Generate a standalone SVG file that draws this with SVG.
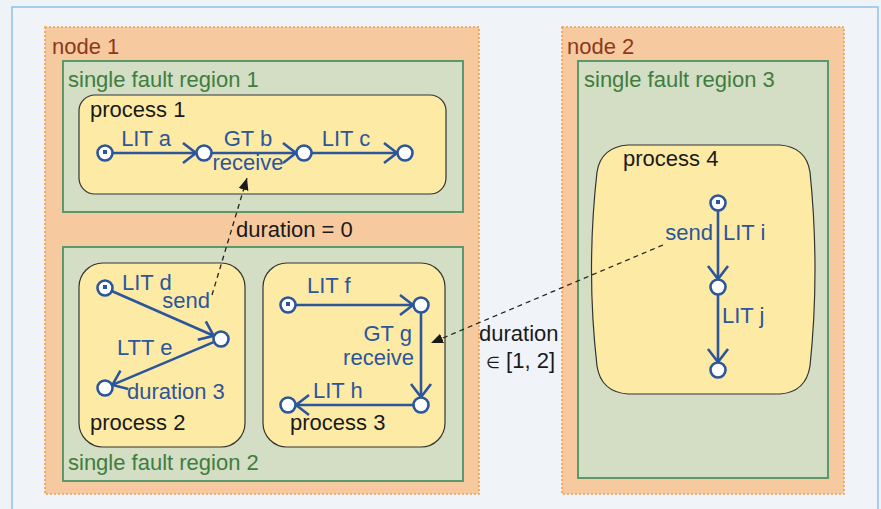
<svg xmlns="http://www.w3.org/2000/svg" width="881" height="509" viewBox="0 0 881 509">
<defs>
<style>
text{font-family:"Liberation Sans",Arial,sans-serif;font-size:22px}
.node{fill:#f6c99e;stroke:#f0a04b;stroke-width:1.6;stroke-dasharray:2 2}
.nlab{fill:#8b3a1e}
.sfr{fill:#d3dec4;stroke:#5a9a6a;stroke-width:2}
.slab{fill:#3f7d3f}
.proc{fill:#fdeba5;stroke:#333;stroke-width:1.2}
.plab{fill:#1a1a1a}
.st{fill:#fff;stroke:#2c559c;stroke-width:2.6}
.sq{fill:#2c559c}
.tr{stroke:#2c559c;stroke-width:2.6;fill:none;marker-end:url(#chev)}
.tl{fill:#2c559c}
.dash{stroke:#222;stroke-width:1.3;fill:none;stroke-dasharray:5 4;marker-end:url(#tri)}
.blk{fill:#1a1a1a}
</style>
<marker id="chev" viewBox="-15 -12 18 24" refX="0" refY="0" markerUnits="userSpaceOnUse" markerWidth="18" markerHeight="24" orient="auto">
<path d="M-13,-10 L0,0 L-13,10" fill="none" stroke="#2c559c" stroke-width="2.6"/>
</marker>
<marker id="tri" viewBox="-12 -6 13 12" refX="0" refY="0" markerUnits="userSpaceOnUse" markerWidth="13" markerHeight="12" orient="auto">
<path d="M-12,-5 L0,0 L-12,5 Z" fill="#1a1a1a"/>
</marker>
</defs>
<rect x="0" y="0" width="881" height="509" fill="#eef3f8"/>
<rect x="12" y="7" width="866" height="520" fill="#f0f4f9" stroke="#8ec1e3" stroke-width="1.5"/>

<g id="node1">
<rect class="node" x="45" y="27" width="434" height="467"/>
<text class="nlab" x="52" y="54">node 1</text>
</g>
<g id="node2">
<rect class="node" x="562" y="27" width="282" height="467"/>
<text class="nlab" x="567" y="54">node 2</text>
</g>
<g id="sfr1">
<rect class="sfr" x="63" y="61" width="400" height="151"/>
<text class="slab" x="68" y="87">single fault region 1</text>
</g>
<g id="sfr2">
<rect class="sfr" x="63" y="247" width="400" height="234"/>
<text class="slab" x="68" y="470">single fault region 2</text>
</g>
<g id="sfr3">
<rect class="sfr" x="578" y="61" width="250" height="417"/>
<text class="slab" x="584" y="87">single fault region 3</text>
</g>

<g id="process1">
<rect class="proc" x="79" y="95" width="367" height="99" rx="16"/>
<text class="plab" x="90" y="117">process 1</text>
<line class="tr" x1="113" y1="153" x2="196" y2="153"/>
<line class="tr" x1="212" y1="153" x2="296" y2="153"/>
<line class="tr" x1="312" y1="153" x2="397" y2="153"/>
<circle class="st" cx="105" cy="153" r="7.5"/><rect class="sq" x="103" y="150" width="4" height="4"/>
<circle class="st" cx="204" cy="153" r="7.5"/>
<circle class="st" cx="304" cy="153" r="7.5"/>
<circle class="st" cx="405" cy="153" r="7.5"/>
<text class="tl" x="146" y="146" text-anchor="middle">LIT a</text>
<text class="tl" x="248" y="146" text-anchor="middle">GT b</text>
<text class="tl" x="248" y="170" text-anchor="middle">receive</text>
<text class="tl" x="346" y="146" text-anchor="middle">LIT c</text>
</g>

<g id="process2">
<rect class="proc" x="79" y="263" width="166" height="184" rx="24"/>
<text class="plab" x="90" y="430">process 2</text>
<line class="tr" x1="112.3" y1="291.2" x2="213.7" y2="335.8"/>
<line class="tr" x1="213.6" y1="342.1" x2="112.4" y2="384.9"/>
<circle class="st" cx="105" cy="288" r="7.5"/><rect class="sq" x="103" y="285" width="4" height="4"/>
<circle class="st" cx="221" cy="339" r="7.5"/>
<circle class="st" cx="105" cy="388" r="7.5"/>
<text class="tl" x="122" y="290">LIT d</text>
<text class="tl" x="210" y="308" text-anchor="end">send</text>
<text class="tl" x="117" y="355">LTT e</text>
<text class="tl" x="127" y="399">duration 3</text>
</g>

<g id="process3">
<rect class="proc" x="263" y="263" width="182" height="184" rx="24"/>
<text class="plab" x="290" y="430">process 3</text>
<line class="tr" x1="296" y1="305" x2="413" y2="305"/>
<line class="tr" x1="421" y1="313" x2="421" y2="397"/>
<line class="tr" x1="413" y1="405" x2="296" y2="405"/>
<circle class="st" cx="288" cy="305" r="7.5"/><rect class="sq" x="286" y="302" width="4" height="4"/>
<circle class="st" cx="421" cy="305" r="7.5"/>
<circle class="st" cx="421" cy="405" r="7.5"/>
<circle class="st" cx="288" cy="405" r="7.5"/>
<text class="tl" x="307" y="293">LIT f</text>
<text class="tl" x="412" y="341" text-anchor="end">GT g</text>
<text class="tl" x="414" y="365" text-anchor="end">receive</text>
<text class="tl" x="313" y="398">LIT h</text>
</g>

<g id="process4">
<path class="proc" d="M628,145 L780,145 Q806,147 810,172 Q820,270 810,366 Q806,392 780,394 L628,394 Q601,392 597,366 Q586,270 597,172 Q601,147 628,145 Z"/>
<text class="plab" x="623" y="166">process 4</text>
<line class="tr" x1="718" y1="211" x2="718" y2="279"/>
<line class="tr" x1="718" y1="295" x2="718" y2="362"/>
<circle class="st" cx="718" cy="203" r="7.5"/><rect class="sq" x="716" y="200" width="4" height="4"/>
<circle class="st" cx="718" cy="287" r="7.5"/>
<circle class="st" cx="718" cy="370" r="7.5"/>
<text class="tl" x="713" y="240" text-anchor="end">send</text>
<text class="tl" x="723" y="240">LIT i</text>
<text class="tl" x="722" y="323">LIT j</text>
</g>

<g id="connectors">
<line class="dash" x1="212" y1="295" x2="247" y2="178"/>
<line class="dash" x1="663" y1="245" x2="431" y2="343"/>
<text class="blk" x="236" y="237">duration = 0</text>
<text class="blk" x="479" y="341">duration</text>
<text class="blk" x="486" y="368"><tspan font-size="16">∈</tspan> [1, 2]</text>
</g>
</svg>
